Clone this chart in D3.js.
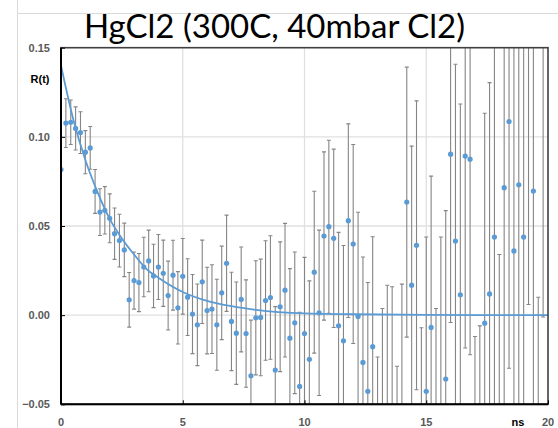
<!DOCTYPE html>
<html>
<head>
    <meta charset="utf-8">
    <title>HgCl2 (300C, 40mbar Cl2)</title>
    <script src="https://cdn.jsdelivr.net/npm/d3@7"></script>
    <style>
    body { margin: 0; background: #fff; }
    .grid line { stroke: #e0e0e0; stroke-width: 1.3px; }
    .err line { stroke: #858585; stroke-width: 1.1px; }
    .fit { fill: none; stroke: #5b9bd5; stroke-width: 1.8px; }
    .dot { fill: #5b9bd5; }
    .tick-label { font-family: "Liberation Sans", Arial, sans-serif; font-size: 11px; font-weight: bold; fill: #595959; }
    .axis-title { font-family: "Liberation Sans", Arial, sans-serif; font-size: 11px; font-weight: bold; fill: #000; }
    .title { font-family: Lato, "Open Sans", sans-serif; font-size: 33px; fill: #000; }
    </style>
</head>
<body>
<script>

// measured decay R(t), sampled every 0.2 ns
var times = [
    0.0, 0.2, 0.4, 0.6, 0.8, 1.0, 1.2, 1.4, 1.6, 1.8,
    2.0, 2.2, 2.4, 2.6, 2.8, 3.0, 3.2, 3.4, 3.6, 3.8,
    4.0, 4.2, 4.4, 4.6, 4.8, 5.0, 5.2, 5.4, 5.6, 5.8,
    6.0, 6.2, 6.4, 6.6, 6.8, 7.0, 7.2, 7.4, 7.6, 7.8,
    8.0, 8.2, 8.4, 8.6, 8.8, 9.0, 9.2, 9.4, 9.6, 9.8,
    10.0, 10.2, 10.4, 10.6, 10.8, 11.0, 11.2, 11.4, 11.6, 11.8,
    12.0, 12.2, 12.4, 12.6, 12.8, 13.0, 13.2, 13.4, 13.6, 13.8,
    14.0, 14.2, 14.4, 14.6, 14.8, 15.0, 15.2, 15.4, 15.6, 15.8,
    16.0, 16.2, 16.4, 16.6, 16.8, 17.0, 17.2, 17.4, 17.6, 17.8,
    18.0, 18.2, 18.4, 18.6, 18.8, 19.0, 19.2, 19.4, 19.6, 19.8
];

var rValues = [
    0.0817, 0.1077, 0.1082, 0.1047, 0.1024, 0.0914, 0.0938, 0.0694, 0.0578, 0.0588,
    0.0543, 0.0457, 0.0418, 0.0366, 0.0086, 0.0194, 0.0183, 0.0270, 0.0304, 0.0220,
    0.0270, 0.0235, 0.0110, 0.0224, 0.0041, 0.0218, 0.0101, 0.0006, -0.0054, 0.0187,
    0.0026, 0.0034, -0.0054, 0.0125, 0.0291, -0.0035, -0.0101, 0.0088, -0.0103, -0.0340,
    -0.0015, -0.0013, 0.0082, 0.0099, -0.0308, 0.0047, 0.0140, -0.0129, -0.0043, -0.0400,
    -0.0103, -0.0248, 0.0241, 0.0013, 0.0444, 0.0496, 0.0431, -0.0060, -0.0144, 0.0530,
    0.0399, -0.0007, -0.0265, -0.0427, -0.0177, -0.0875, -0.0613, -0.0532, -0.0551, -0.1007,
    -0.0556, 0.0634, 0.0168, 0.0392, -0.0921, -0.0427, -0.0069, -0.0863, -0.0562, -0.0358,
    0.0903, 0.0416, 0.0114, 0.0892, 0.0875, -0.1240, -0.1200, -0.0045, 0.0119, 0.0438,
    -0.0910, 0.0715, 0.1086, 0.0360, 0.0731, 0.0438, 0.1560, 0.0696, -0.1400, 0.1540
];

var rErrors = [
    0.0000, 0.0137, 0.0125, 0.0121, 0.0117, 0.0121, 0.0120, 0.0123, 0.0131, 0.0133,
    0.0137, 0.0144, 0.0148, 0.0150, 0.0153, 0.0160, 0.0163, 0.0167, 0.0173, 0.0178,
    0.0182, 0.0186, 0.0193, 0.0196, 0.0203, 0.0212, 0.0215, 0.0222, 0.0229, 0.0234,
    0.0243, 0.0249, 0.0255, 0.0262, 0.0270, 0.0276, 0.0287, 0.0294, 0.0301, 0.0312,
    0.0320, 0.0327, 0.0335, 0.0346, 0.0356, 0.0364, 0.0375, 0.0390, 0.0397, 0.0416,
    0.0427, 0.0440, 0.0454, 0.0464, 0.0472, 0.0485, 0.0500, 0.0524, 0.0535, 0.0543,
    0.0558, 0.0584, 0.0591, 0.0610, 0.0617, 0.0640, 0.0650, 0.0700, 0.0710, 0.0720,
    0.0730, 0.0757, 0.0780, 0.0810, 0.0850, 0.0865, 0.0849, 0.0900, 0.1000, 0.0944,
    0.0944, 0.0991, 0.1070, 0.1076, 0.1097, 0.1120, 0.1140, 0.1177, 0.1185, 0.1250,
    0.1250, 0.1350, 0.1384, 0.1400, 0.1400, 0.1450, 0.1500, 0.1500, 0.1500, 0.1550
];

// fitted decay curve
var fitTimes  = [0, 0.5, 1, 1.5, 2, 2.5, 3, 3.5, 4, 5, 6, 7, 8, 10, 12, 15, 20];
var fitValues = [0.140, 0.110, 0.087, 0.069, 0.054, 0.043, 0.034, 0.026, 0.021, 0.013, 0.008, 0.005, 0.003, 0.001, 0.0005, 0.0001, 0.0];

var xTicks = [0, 5, 10, 15, 20];
var yTicks = [-0.05, 0.00, 0.05, 0.10, 0.15];

var width = 558, height = 428;
var plot = {left: 61, right: 548, top: 47.7, bottom: 404.3};

var x = d3.scaleLinear().domain([0, 20]).range([plot.left, plot.right]);
var y = d3.scaleLinear().domain([-0.05, 0.15]).range([plot.bottom, plot.top]);

var svg = d3.select('body').append('svg')
    .attr('width', width)
    .attr('height', height);

// faint outer frame of the slide
svg.append('line').attr('x1', 17.5).attr('x2', 17.5).attr('y1', 0).attr('y2', height)
    .attr('stroke', '#d9d9d9');
svg.append('line').attr('x1', 17.5).attr('x2', width).attr('y1', 13.5).attr('y2', 13.5)
    .attr('stroke', '#d9d9d9');

svg.append('text')
    .attr('class', 'title')
    .attr('x', 274.5)
    .attr('y', 38)
    .attr('text-anchor', 'middle')
    .text('HgCl2 (300C, 40mbar Cl2)');

svg.append('clipPath').attr('id', 'clip')
  .append('rect')
    .attr('x', plot.left).attr('y', plot.top)
    .attr('width', plot.right - plot.left).attr('height', plot.bottom - plot.top);

var grid = svg.append('g').attr('class', 'grid');
grid.selectAll('.gy').data(yTicks.slice(1, -1)).enter().append('line')
    .attr('x1', plot.left).attr('x2', plot.right)
    .attr('y1', function(d) { return y(d); }).attr('y2', function(d) { return y(d); });
grid.selectAll('.gx').data(xTicks.slice(1, -1)).enter().append('line')
    .attr('y1', plot.top).attr('y2', plot.bottom)
    .attr('x1', function(d) { return x(d); }).attr('x2', function(d) { return x(d); });

var pts = times.map(function(t, i) { return {t: t, v: rValues[i], e: rErrors[i]}; });

var inner = svg.append('g').attr('clip-path', 'url(#clip)');

var err = inner.append('g').attr('class', 'err');
pts.filter(function(d) { return d.e > 0; }).forEach(function(d) {
    var cx = x(d.t), y0 = y(d.v - d.e), y1 = y(d.v + d.e);
    err.append('line').attr('x1', cx).attr('x2', cx).attr('y1', y0).attr('y2', y1);
    err.append('line').attr('x1', cx - 2).attr('x2', cx + 2).attr('y1', y0).attr('y2', y0);
    err.append('line').attr('x1', cx - 2).attr('x2', cx + 2).attr('y1', y1).attr('y2', y1);
});

var fit = fitTimes.map(function(t, i) { return [t, fitValues[i]]; });
inner.append('path')
    .attr('class', 'fit')
    .attr('d', d3.line()
        .x(function(d) { return x(d[0]); })
        .y(function(d) { return y(d[1]); })
        .curve(d3.curveMonotoneX)(fit));

inner.selectAll('.dot').data(pts).enter().append('circle')
    .attr('class', 'dot')
    .attr('cx', function(d) { return x(d.t); })
    .attr('cy', function(d) { return y(d.v); })
    .attr('r', 2.6);

// plot frame
svg.append('rect')
    .attr('x', plot.left).attr('y', plot.top)
    .attr('width', plot.right - plot.left).attr('height', plot.bottom - plot.top)
    .attr('fill', 'none').attr('stroke', '#404040').attr('stroke-width', 1.6);
svg.append('line').attr('x1', plot.left).attr('x2', plot.left)
    .attr('y1', plot.top).attr('y2', plot.bottom).attr('stroke', '#000').attr('stroke-width', 2);
svg.append('line').attr('x1', plot.left).attr('x2', plot.right)
    .attr('y1', plot.bottom).attr('y2', plot.bottom).attr('stroke', '#000').attr('stroke-width', 2);

// axes: inward ticks, labels drawn separately
var yAxis = d3.axisRight(y).tickValues(yTicks).tickSize(4).tickFormat('');
svg.append('g').attr('transform', 'translate(' + plot.left + ',0)').call(yAxis)
    .call(function(g) { g.select('.domain').remove(); g.selectAll('line').attr('stroke', '#000'); });
var xAxis = d3.axisTop(x).tickValues(xTicks).tickSize(4).tickFormat('');
svg.append('g').attr('transform', 'translate(0,' + plot.bottom + ')').call(xAxis)
    .call(function(g) { g.select('.domain').remove(); g.selectAll('line').attr('stroke', '#000'); });

svg.selectAll('.ylab').data(yTicks).enter().append('text')
    .attr('class', 'tick-label')
    .attr('x', 50)
    .attr('y', function(d) { return y(d); })
    .attr('dy', '0.35em')
    .attr('text-anchor', 'end')
    .text(d3.format('.2f'));

svg.selectAll('.xlab').data(xTicks).enter().append('text')
    .attr('class', 'tick-label')
    .attr('x', function(d) { return x(d); })
    .attr('y', 422)
    .attr('dy', '0.35em')
    .attr('text-anchor', 'middle')
    .text(function(d) { return d; });

svg.append('text').attr('class', 'axis-title')
    .attr('x', 40).attr('y', 79).attr('dy', '0.35em')
    .attr('text-anchor', 'middle').text('R(t)');
svg.append('text').attr('class', 'axis-title')
    .attr('x', 518).attr('y', 422).attr('dy', '0.35em')
    .attr('text-anchor', 'middle').text('ns');

</script>
</body>
</html>
